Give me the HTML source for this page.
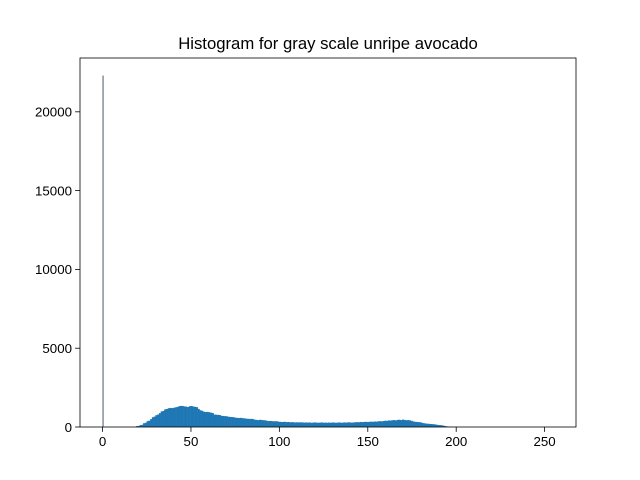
<!DOCTYPE html>
<html><head><meta charset="utf-8"><style>
body{margin:0;background:#fff;}
svg{display:block;font-family:"Liberation Sans","DejaVu Sans",sans-serif;}
</style></head><body>
<svg id="chart" width="640" height="480" viewBox="0 0 640 480" xmlns="http://www.w3.org/2000/svg">
<rect width="640" height="480" fill="#fff"/>
<text x="328" y="49" text-anchor="middle" font-size="16.7">Histogram for gray scale unripe avocado</text>
<g id="bars"></g>
<g id="axes"></g>
</svg>
<script>
const counts = [
22300,0,0,0,0,0,0,0,0,0,0,0,0,0,0,0,
0,0,0,60,70,120,140,240,270,370,400,500,620,660,750,790,
880,990,1020,1120,1140,1190,1210,1200,1220,1250,1270,1320,1340,1330,1310,1290,
1270,1320,1330,1300,1280,1260,1150,1060,1030,970,950,960,940,910,890,790,
780,770,760,710,700,690,680,650,640,630,620,590,580,570,580,560,
550,530,520,510,520,500,460,450,440,460,440,430,420,390,380,380,
370,360,370,350,330,320,320,330,310,320,300,310,300,290,300,290,
300,290,280,290,280,290,270,280,290,280,270,280,290,270,280,270,
280,270,290,280,270,280,290,270,280,290,280,300,290,280,290,300,
310,300,320,310,320,330,320,330,340,330,350,340,360,370,360,380,
400,390,420,410,430,440,420,450,460,440,470,450,430,440,420,390,
350,330,320,310,300,260,240,220,210,200,190,180,170,150,130,120,
110,90,60,40,30,20,10,10,5,5,0,0,0,0,0,0,
0,0,0,0,0,0,0,0,0,0,0,0,0,0,0,0,
0,0,0,0,0,0,0,0,0,0,0,0,0,0,0,0,
0,0,0,0,0,0,0,0,0,0,0,0,0,0,0,0];
const xTicks = [0,50,100,150,200,250];
const yTicks = [0,5000,10000,15000,20000];
const binMin = 0, binMax = 255;

const L=80,R=576,T=58,B=427;
const maxC = Math.max(...counts);
const xmin = binMin-(binMax-binMin)*0.05, xmax = binMax+(binMax-binMin)*0.05;
const ymax = maxC*1.05;
const xs = v => L+(v-xmin)/(xmax-xmin)*(R-L);
const ys = v => B-(v/ymax)*(B-T);
const NS="http://www.w3.org/2000/svg";
const bars=document.getElementById('bars');
const w=(binMax-binMin)/counts.length;
counts.forEach((c,i)=>{
  if(c<=0)return;
  const r=document.createElementNS(NS,'rect');
  
  
  const x0=xs(binMin+i*w), x1=xs(binMin+(i+1)*w);
  r.setAttribute('x',x0);r.setAttribute('width',x1-x0+0.3);
  r.setAttribute('y',ys(c));r.setAttribute('height',B-ys(c));
  r.setAttribute('fill', i===0 ? '#4a5a66' : '#1f77b4');
  if(i===0){r.setAttribute('width',1);}
  bars.appendChild(r);
});
const ax=document.getElementById('axes');
const frame=document.createElementNS(NS,'rect');


frame.setAttribute('x',L);frame.setAttribute('y',T);frame.setAttribute('width',R-L);frame.setAttribute('height',B-T);
frame.setAttribute('fill','none');frame.setAttribute('stroke','#000');frame.setAttribute('stroke-width','0.8');
ax.appendChild(frame);
xTicks.forEach(t=>{
  const x=xs(t);
  const l=document.createElementNS(NS,'line');
  
  
  l.setAttribute('x1',x);l.setAttribute('x2',x);l.setAttribute('y1',B);l.setAttribute('y2',B+4.9);
  l.setAttribute('stroke','#000');l.setAttribute('stroke-width','0.8');ax.appendChild(l);
  const tx=document.createElementNS(NS,'text');
  
  
  tx.setAttribute('x',x);tx.setAttribute('y',B+19);tx.setAttribute('text-anchor','middle');tx.setAttribute('font-size','13.3');
  tx.textContent=t;ax.appendChild(tx);
});
yTicks.forEach(t=>{
  const y=ys(t);
  const l=document.createElementNS(NS,'line');
  
  
  l.setAttribute('x1',L-4.9);l.setAttribute('x2',L);l.setAttribute('y1',y);l.setAttribute('y2',y);
  l.setAttribute('stroke','#000');l.setAttribute('stroke-width','0.8');ax.appendChild(l);
  const tx=document.createElementNS(NS,'text');
  
  
  tx.setAttribute('x',L-8);tx.setAttribute('y',y+4.8);tx.setAttribute('text-anchor','end');tx.setAttribute('font-size','13.3');
  tx.textContent=t;ax.appendChild(tx);
});
</script>
</body></html>
